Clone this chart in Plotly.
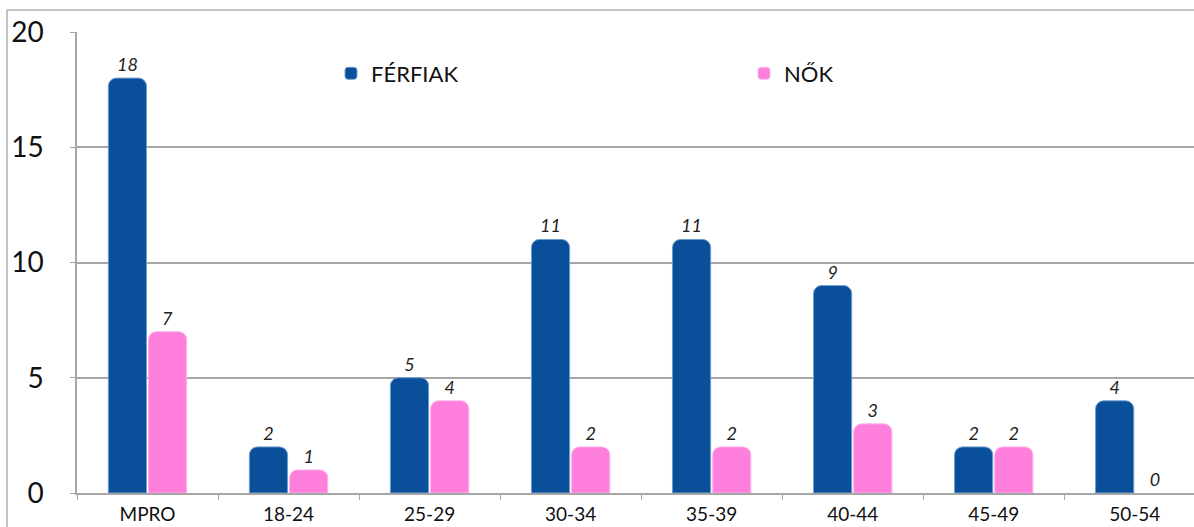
import plotly.graph_objects as go

categories = ["MPRO", "18-24", "25-29", "30-34", "35-39", "40-44", "45-49", "50-54"]
ferfiak = [18, 2, 5, 11, 11, 9, 2, 4]
nok = [7, 1, 4, 2, 2, 3, 2, 0]
y_ticks = [0, 5, 10, 15, 20]

BLUE = "#0A4F9A"
PINK = "#FF7FDC"
GRID = "#A6A6A6"
FONT = "Lato"

fig = go.Figure()
fig.add_trace(go.Bar(
    name="FÉRFIAK", x=categories, y=ferfiak,
    marker=dict(color=BLUE, cornerradius=8,
                line=dict(color="#6F9ED0", width=[1 if v > 0 else 0 for v in ferfiak])),
    text=[str(v) for v in ferfiak], textposition="outside", cliponaxis=False,
    textfont=dict(family=FONT, size=18, color="#222222", style="italic"),
))
fig.add_trace(go.Bar(
    name="NŐK", x=categories, y=nok,
    marker=dict(color=PINK, cornerradius=8,
                line=dict(color="#FFB3EC", width=[1 if v > 0 else 0 for v in nok])),
    text=[str(v) for v in nok], textposition="outside", cliponaxis=False,
    textfont=dict(family=FONT, size=18, color="#222222", style="italic"),
))

fig.update_layout(
    width=1194, height=527,
    margin=dict(l=77, r=0, t=32, b=34),
    paper_bgcolor="white", plot_bgcolor="white",
    barmode="group", bargap=0.43, bargroupgap=0.05,
    font=dict(family=FONT, color="#111111"),
    legend=dict(orientation="h", x=(331 - 77) / 1117, y=0.91, xanchor="left", yanchor="middle",
                font=dict(family=FONT, size=22, color="#111111"),
                entrywidth=368, bgcolor="rgba(0,0,0,0)"),
    showlegend=True,
    shapes=[
        dict(type="line", xref="paper", yref="paper", x0=(7 - 77) / 1117, x1=1.05,
             y0=(493 - 10) / 461, y1=(493 - 10) / 461, line=dict(color="#B0B0B0", width=1.5)),
        dict(type="line", xref="paper", yref="paper", x0=(7 - 77) / 1117, x1=(7 - 77) / 1117,
             y0=-0.2, y1=(493 - 10) / 461, line=dict(color="#B0B0B0", width=1.5)),
    ],
)
fig.update_xaxes(
    range=[-0.5, 7.42], showgrid=False, showline=True, linecolor=GRID, linewidth=1.5,
    ticks="outside", tickson="boundaries", ticklen=5, tickcolor=GRID,
    tickfont=dict(family=FONT, size=19, color="#111111"), ticklabelstandoff=3,
)
fig.update_yaxes(
    range=[0, 20], tickvals=y_ticks, showgrid=True, gridcolor=GRID, gridwidth=1.5,
    showline=True, linecolor=GRID, linewidth=1.5, ticks="outside", ticklen=5, tickcolor=GRID,
    tickfont=dict(family=FONT, size=28, color="#111111"), ticklabelstandoff=21,
    zeroline=False,
)

fig.write_html("out.html", config={"displayModeBar": False},
               post_script="document.body.style.margin='0';")
